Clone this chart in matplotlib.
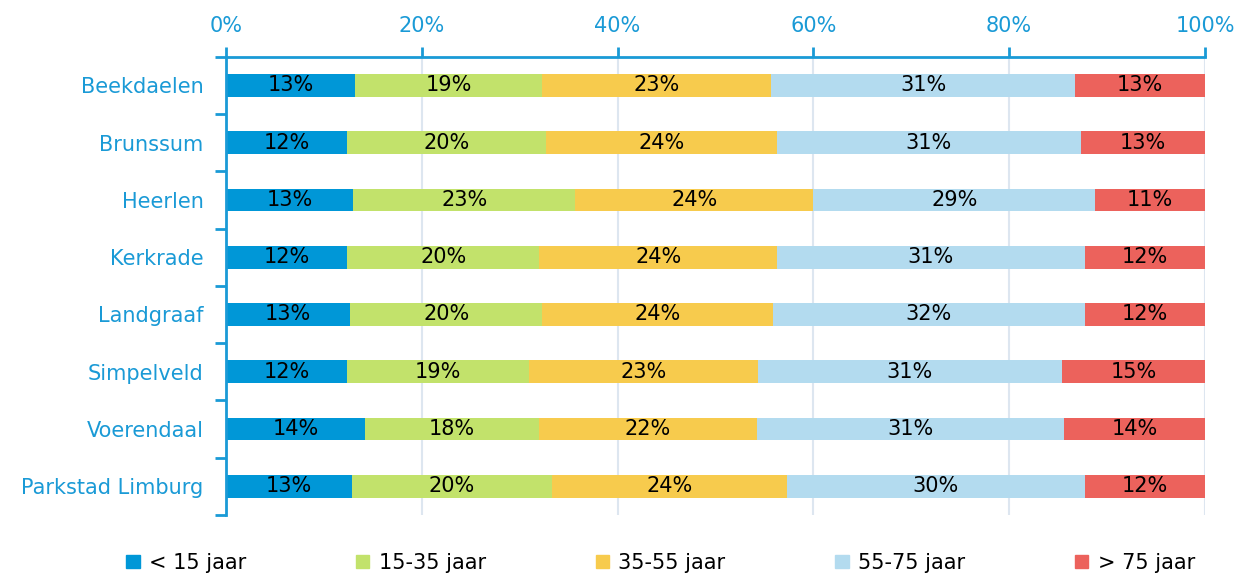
import numpy as np
from matplotlib import pyplot as plt
from matplotlib.patches import Patch

plt.rcParams['font.family'] = ['DejaVu Sans']

gemeenten = ["Beekdaelen", "Brunssum", "Heerlen", "Kerkrade", "Landgraaf",
             "Simpelveld", "Voerendaal", "Parkstad Limburg"]
groepen = ["< 15 jaar", "15-35 jaar", "35-55 jaar", "55-75 jaar", "> 75 jaar"]

# aandeel per leeftijdsgroep (%)
tot15 = [13.2, 12.4, 13.0, 12.4, 12.7, 12.4, 14.2, 12.9]
tot35 = [19.1, 20.3, 22.7, 19.6, 19.6, 18.6, 17.8, 20.4]
tot55 = [23.4, 23.6, 24.3, 24.3, 23.6, 23.3, 22.2, 24.0]
tot75 = [31.0, 31.0, 28.8, 31.4, 31.8, 31.1, 31.4, 30.4]
boven75 = [13.3, 12.7, 11.2, 12.3, 12.3, 14.6, 14.4, 12.3]

kleuren = ["#0097d7", "#c2e26b", "#f7cb4d", "#b3dbef", "#ec625c"]
blauw = "#1a9ad6"

fig = plt.figure(figsize=(12.41, 5.74), dpi=100)
ax = fig.add_axes([0.182, 0.103, 0.789, 0.798])

y = np.arange(len(gemeenten))
links = np.zeros(len(gemeenten))
for reeks, kleur, naam in zip([tot15, tot35, tot55, tot75, boven75], kleuren, groepen):
    vals = np.array(reeks)
    bars = ax.barh(y, vals, left=links, height=0.4, color=kleur, label=naam, zorder=2)
    for b, v in zip(bars, vals):
        ax.text(b.get_x() + b.get_width() / 2, b.get_y() + b.get_height() / 2,
                f"{round(v)}%", ha='center', va='center', fontsize=15, color='black', zorder=3)
    links += vals

ax.set_xlim(0, 100)
ax.set_ylim(len(gemeenten) - 0.5, -0.5)
ax.xaxis.tick_top()
ax.set_xticks(np.arange(0, 101, 20))
ax.set_xticklabels([f"{t}%" for t in range(0, 101, 20)])
ax.set_yticks(y)
ax.set_yticklabels(gemeenten)
ax.set_yticks(np.arange(-0.5, len(gemeenten)), minor=True)
ax.tick_params(axis='y', which='major', length=0, pad=16, labelsize=15, labelcolor=blauw)
ax.tick_params(axis='y', which='minor', length=8, width=2, color=blauw)
ax.tick_params(axis='x', length=7, width=2, color=blauw, labelsize=15, labelcolor=blauw, pad=8)

ax.grid(axis='x', color="#dde6f0", linewidth=1.5, zorder=0)
for s in ['right', 'bottom']:
    ax.spines[s].set_visible(False)
for s in ['top', 'left']:
    ax.spines[s].set_color(blauw)
    ax.spines[s].set_linewidth(2)

handles = [Patch(color=k) for k in kleuren]
fig.legend(handles, groepen, loc='lower left', bbox_to_anchor=(0.1015, 0.002, 0.8615, 0.05),
           mode='expand', ncol=5, frameon=False, fontsize=15, borderpad=0, borderaxespad=0,
           handlelength=0.65, handleheight=0.65, handletextpad=0.45)

plt.savefig("out.png", dpi=100)
